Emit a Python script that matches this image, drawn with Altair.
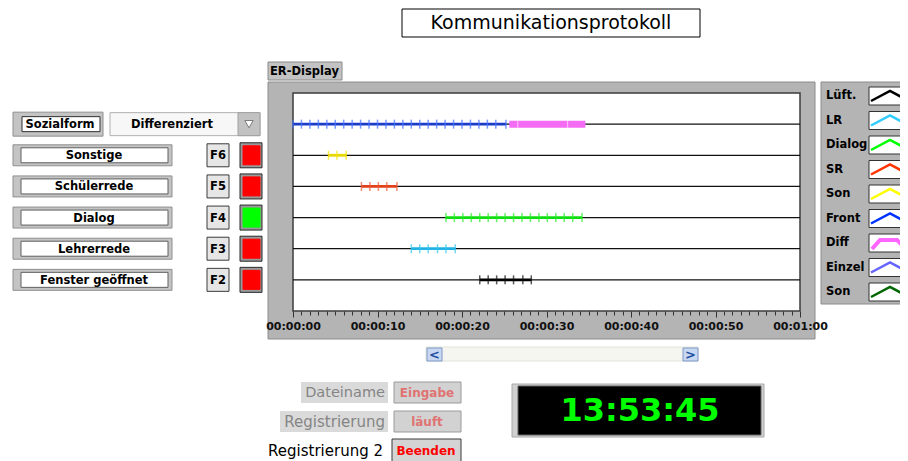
import altair as alt
import pandas as pd

# ---------------- data ----------------
row_labels = ["Sozialform", "Sonstige", "Schülerrede", "Dialog", "Lehrerrede", "Fenster geöffnet"]
row_index = [1, 2, 3, 4, 5, 6]
fkeys = ["", "F6", "F5", "F4", "F3", "F2"]
indicator_state = ["", "aus", "aus", "an", "aus", "aus"]
sozialform_value = "Differenziert"

# sample times (seconds) of each registered category on the ER display
front_t = [0, 1, 2, 3, 4, 5, 6, 7, 8, 9, 10, 11, 12, 13, 14, 15, 16, 17, 18, 19, 20, 21, 22, 23, 24, 25.2]
diff_t = [25.6, 26.6, 32.5, 34.6]
son_t = [4.2, 5.2, 6.3]
sr_t = [8.1, 9.1, 10.1, 11.1, 12.3]
dialog_t = [18.1, 19.1, 20.1, 21.1, 22.1, 23.1, 24.1, 25.1, 26.1, 27.1, 28.1, 29.1, 30.1, 31.1, 32.1, 33.1, 34.2]
lr_t = [14.0, 15.0, 16.0, 17.1, 18.1, 19.2]
lueft_t = [22.1, 23.1, 24.1, 25.1, 26.1, 27.2, 28.2]

series_names = ["Front", "Diff", "Son", "SR", "Dialog", "LR", "Lüft."]
series_rows = [1, 1, 2, 3, 4, 5, 6]
series_times = [front_t, diff_t, son_t, sr_t, dialog_t, lr_t, lueft_t]

legend_labels = ["Lüft.", "LR", "Dialog", "SR", "Son", "Front", "Diff", "Einzel", "Son"]
clock_text = "13:53:45"

# ---------------- styles ----------------
line_color = {"Front": "#1c3cc8", "Diff": "#f46cf4", "Son": "#e6d800", "SR": "#e0401c",
              "Dialog": "#10dc10", "LR": "#1fb2e2", "Lüft.": "#000000"}
marker_color = {"Front": "#4470ff", "Diff": "#ffffff", "Son": "#f2e600", "SR": "#f05a34",
                "Dialog": "#22ee22", "LR": "#33c4f0", "Lüft.": "#111111"}
legend_colors = ["#000000", "#33ccff", "#00ff00", "#ff3300", "#ffff00", "#0033ff", "#ff66ff", "#6666ff", "#006600"]
state_color = {"aus": "#ff0000", "an": "#00ff00"}
FONT = "DejaVu Sans"

# ---------------- layout ----------------
X0, Y0 = 293, 93          # page position of the plot area
W, H = 507, 218
UNIT = H / 7.0


def px(x):
    return x - X0


def py(y):
    return y - Y0


xscale = alt.Scale(domain=[0, 60], nice=False, zero=False)
yscale = alt.Scale(domain=[0, 7], reverse=True, nice=False, zero=False)

x_axis = alt.Axis(
    values=list(range(0, 61)),
    labelExpr="datum.value % 10 === 0 ? utcFormat(datum.value * 1000, '%H:%M:%S') : ''",
    tickSize={"condition": {"test": "datum.value % 10 === 0", "value": 6}, "value": 4},
    labelFont=FONT, labelFontWeight="bold", labelFontSize=11, labelColor="#111111",
    labelPadding=3, labelFlush=False, labelOverlap=False,
    tickColor="#333333", tickWidth=1, domain=False, grid=False, title=None, zindex=1,
)
x_enc = alt.X("t:Q", scale=xscale, axis=x_axis)


def y_enc(field):
    return alt.Y(field, scale=yscale, axis=None)


# ---------------- pixel UI rectangles ----------------
ui = [
    (402, 9, 700, 37, "#ffffff", "#000000", 1),
    (268, 62, 342, 80, "#c3c3c3", "#8a8a8a", 1),
    (268, 82, 815, 339, "#b4b4b4", "#8c8c8c", 1),
    (293, 93, 800, 311, "#ffffff", "#3c3c3c", 1.5),
    (426, 347, 698, 361, "#f6f6f1", "#e2e2da", 1),
    (427, 348, 442, 361, "#c9d8f2", "#7d98c6", 1),
    (683, 348, 698, 361, "#c9d8f2", "#7d98c6", 1),
    (821, 82, 914, 304, "#b4b4b4", "#8c8c8c", 1),
    (512, 384, 764, 437, "#d0d0d0", "#a8a8a8", 1),
    (518, 386, 761, 435, "#000000", "#606060", 1),
    (301, 382, 388, 403, "#dadada", "#dadada", 0),
    (394, 382, 461, 403, "#d2d2d2", "#9a9a9a", 1),
    (280, 411, 388, 432, "#dadada", "#dadada", 0),
    (394, 411, 461, 432, "#d2d2d2", "#9a9a9a", 1),
    (392, 439, 461, 463, "#d4d4d4", "#3a3a3a", 1),
]
leg_y = [96 + i * 24.5 for i in range(len(legend_labels))]
for cy in leg_y:
    ui.append((869, cy - 9, 914, cy + 9, "#ffffff", "#333333", 1))
ui_df = pd.DataFrame(ui, columns=["x1", "y1", "x2", "y2", "fill", "stroke", "sw"])
for c in ["x1", "x2"]:
    ui_df[c] = ui_df[c].map(px)
for c in ["y1", "y2"]:
    ui_df[c] = ui_df[c].map(py)

ui_layer = alt.Chart(ui_df).mark_rect().encode(
    x=alt.X("x1:Q", scale=None, axis=None), x2="x2:Q",
    y=alt.Y("y1:Q", scale=None, axis=None), y2="y2:Q",
    fill=alt.Fill("fill:N", scale=None, legend=None),
    stroke=alt.Stroke("stroke:N", scale=None, legend=None),
    strokeWidth=alt.StrokeWidth("sw:Q", scale=None, legend=None),
)

# ---------------- left control panel (rows on the plot's y scale) ----------------
lp = []


def add(x1, x2, row, half, fill, stroke):
    lp.append((px(x1), px(x2), row - half / UNIT, row + half / UNIT, fill, stroke))


add(13, 103, 1, 12, "#c4c4c4", "#909090")
add(22, 100, 1, 7.5, "#ffffff", "#303030")
add(110, 260, 1, 11.5, "#f7f7f7", "#b0b0b0")
add(238, 260, 1, 11.5, "#c2c2c2", "#a0a0a0")
for r, st in zip(row_index[1:], indicator_state[1:]):
    add(13, 172, r, 10.5, "#c4c4c4", "#909090")
    add(21, 168, r, 7.5, "#ffffff", "#606060")
    add(207, 229, r, 11.5, "#e6e6e6", "#3a3a3a")
    add(240, 262, r, 12.5, "#9a9a9a", "#2a2a2a")
    add(243, 260, r, 9.5, state_color[st], state_color[st])
lp_df = pd.DataFrame(lp, columns=["x1", "x2", "lo", "hi", "fill", "stroke"])
lp_layer = alt.Chart(lp_df).mark_rect(strokeWidth=1).encode(
    x=alt.X("x1:Q", scale=None, axis=None), x2="x2:Q",
    y=y_enc("lo:Q"), y2="hi:Q",
    fill=alt.Fill("fill:N", scale=None, legend=None),
    stroke=alt.Stroke("stroke:N", scale=None, legend=None),
)

tri_layer = alt.Chart(pd.DataFrame({"row": [1]})).mark_point(
    shape="triangle-down", filled=True, fill="#ffffff", stroke="#7a7a7a",
    strokeWidth=1, size=70, opacity=1,
).encode(x=alt.value(px(249)), y=y_enc("row:Q"))

lp_text = []
lp_text.append((px(60), 1, row_labels[0]))
lp_text.append((px(172), 1, sozialform_value))
for r, lab, fk in zip(row_index[1:], row_labels[1:], fkeys[1:]):
    lp_text.append((px(94), r, lab))
    lp_text.append((px(218), r, fk))
lpt_df = pd.DataFrame(lp_text, columns=["x", "row", "text"])
lpt_layer = alt.Chart(lpt_df).mark_text(
    font=FONT, fontWeight="bold", fontSize=11.5, align="center", baseline="middle", color="#000000", dy=1
).encode(x=alt.X("x:Q", scale=None, axis=None), y=y_enc("row:Q"), text="text:N")

# ---------------- plot contents ----------------
rules = alt.Chart(pd.DataFrame({"row": row_index})).mark_rule(color="#111111", strokeWidth=1.3).encode(
    y=y_enc("row:Q")
)

recs = []
for name, row, ts in zip(series_names, series_rows, series_times):
    for t in ts:
        recs.append({"name": name, "row": row, "t": t,
                     "lc": line_color[name], "mc": marker_color[name]})
sdf = pd.DataFrame(recs)
thin = sdf[sdf["name"] != "Diff"]
diff = sdf[sdf["name"] == "Diff"]

lines = alt.Chart(thin).mark_line(strokeWidth=2.8).encode(
    x=x_enc, y=y_enc("row:Q"), detail="name:N",
    color=alt.Color("lc:N", scale=None, legend=None),
)
band = alt.Chart(diff).mark_line(strokeWidth=7, strokeCap="butt").encode(
    x=x_enc, y=y_enc("row:Q"), detail="name:N",
    color=alt.Color("lc:N", scale=None, legend=None),
)
band_gaps = alt.Chart(diff.iloc[1:-1]).mark_tick(orient="vertical", size=7, thickness=1, opacity=0.6).encode(
    x=x_enc, y=y_enc("row:Q"), color=alt.Color("mc:N", scale=None, legend=None),
)
markers = alt.Chart(thin).mark_tick(orient="vertical", size=9, thickness=1.5).encode(
    x=x_enc, y=y_enc("row:Q"), color=alt.Color("mc:N", scale=None, legend=None),
)

# ---------------- legend icons ----------------
icon = []
for i, (lab, col, cy) in enumerate(zip(legend_labels, legend_colors, leg_y)):
    if lab == "Diff":
        pts = [(872, 6), (880, -3), (897, -3), (906, 6)]
        sw = 4
    else:
        pts = [(871, 5), (890, -5), (909, 5)]
        sw = 2.5
    for k, (x, dy) in enumerate(pts):
        icon.append({"id": i, "k": k, "x": px(x), "y": py(cy + dy), "c": col, "sw": sw})
icon_layer = alt.Chart(pd.DataFrame(icon)).mark_line().encode(
    x=alt.X("x:Q", scale=None, axis=None), y=alt.Y("y:Q", scale=None, axis=None),
    detail="id:N", order="k:Q",
    color=alt.Color("c:N", scale=None, legend=None),
    strokeWidth=alt.StrokeWidth("sw:Q", scale=None, legend=None),
)

# ---------------- pixel texts ----------------
def text_layer(rows, weight, align):
    df = pd.DataFrame(rows, columns=["x", "y", "text", "size", "color"])
    df["x"] = df["x"].map(px)
    df["y"] = df["y"].map(py)
    return alt.Chart(df).mark_text(font=FONT, fontWeight=weight, align=align, baseline="middle").encode(
        x=alt.X("x:Q", scale=None, axis=None), y=alt.Y("y:Q", scale=None, axis=None),
        text="text:N", size=alt.Size("size:Q", scale=None, legend=None),
        color=alt.Color("color:N", scale=None, legend=None),
    )


t_title = text_layer([(551, 23, "Kommunikationsprotokoll", 19, "#000000")], "normal", "center")
t_right = text_layer([
    (385, 393, "Dateiname", 14.5, "#858585"),
    (385, 422, "Registrierung", 15, "#858585"),
    (383, 451, "Registrierung 2", 15, "#000000"),
], "normal", "right")
t_bold_c = text_layer([
    (427, 393, "Eingabe", 12, "#e07272"),
    (427, 422, "läuft", 12, "#e07272"),
    (426, 451, "Beenden", 12, "#ff0000"),
    (640, 411, clock_text, 32, "#00ff00"),
    (434.5, 354.5, "<", 13, "#1d4f9e"),
    (690.5, 354.5, ">", 13, "#1d4f9e"),
], "bold", "center")
t_bold_l = text_layer(
    [(270, 71.5, "ER-Display", 11.5, "#000000")]
    + [(826, cy, lab, 11.5, "#000000") for lab, cy in zip(legend_labels, leg_y)],
    "bold", "left")

chart = alt.layer(
    ui_layer, lp_layer, tri_layer, rules, lines, band, band_gaps, markers, icon_layer,
    lpt_layer, t_title, t_right, t_bold_c, t_bold_l,
).properties(
    width=W, height=H,
    padding={"left": 285, "top": 85, "right": 100, "bottom": 150},
    autosize=alt.AutoSizeParams(type="none"),
    background="#ffffff",
).configure_view(stroke=None)

chart.save("out.html", embed_options={"renderer": "svg", "actions": False})
